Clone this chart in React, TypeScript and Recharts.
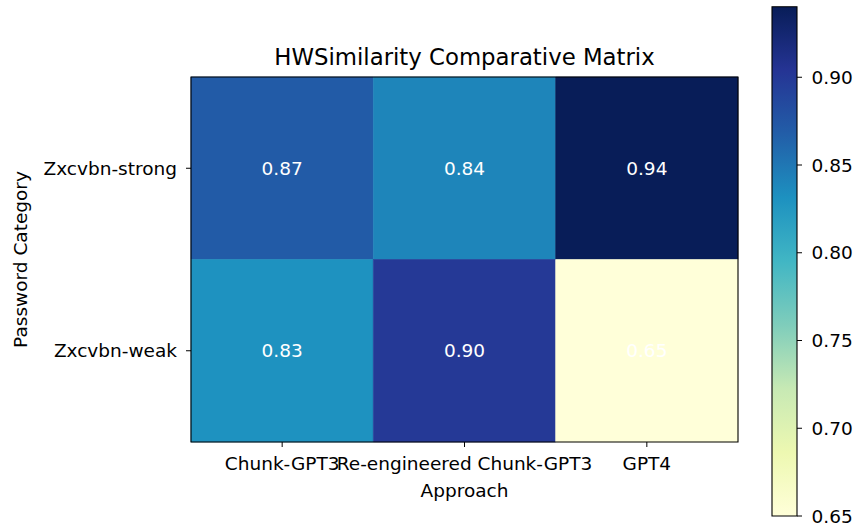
import React from 'react';
import { ComposedChart, XAxis, YAxis, ReferenceArea, Scatter } from 'recharts';

// ---- data ----
const approaches = ['Chunk-GPT3', 'Re-engineered Chunk-GPT3', 'GPT4'];
const categories = ['Zxcvbn-strong', 'Zxcvbn-weak'];
const strongValues = [0.87, 0.84, 0.94];
const weakValues = [0.83, 0.9, 0.65];
const colorbarTicks = [0.65, 0.7, 0.75, 0.8, 0.85, 0.9];
const vmin = 0.65;
const vmax = 0.9402;

// YlGnBu colormap anchors
const ylgnbu = ['#ffffd9', '#edf8b1', '#c7e9b4', '#7fcdbb', '#41b6c4', '#1d91c0', '#225ea8', '#253494', '#081d58'];

const hexToRgb = (h: string) => [1, 3, 5].map((i) => parseInt(h.slice(i, i + 2), 16));
const colorFor = (v: number) => {
  let t = (v - vmin) / (vmax - vmin);
  t = Math.max(0, Math.min(1, t));
  const pos = t * (ylgnbu.length - 1);
  const i = Math.min(Math.floor(pos), ylgnbu.length - 2);
  const f = pos - i;
  const a = hexToRgb(ylgnbu[i]);
  const b = hexToRgb(ylgnbu[i + 1]);
  const c = a.map((x, k) => Math.round(x + (b[k] - x) * f));
  return `rgb(${c[0]},${c[1]},${c[2]})`;
};

const matrix = [strongValues, weakValues];
const cells = matrix.flatMap((row, r) => row.map((value, c) => ({ x: c, y: r, value })));

const FONT = 'DejaVu Sans';
const TICK_FS = 18.5;

export default function App() {
  return (
    <div style={{ position: 'absolute', left: 0, top: 0, width: 856, height: 529, background: '#fff', fontFamily: FONT }}>
      <div
        style={{
          position: 'absolute',
          left: 0,
          width: 929,
          top: 46.3,
          textAlign: 'center',
          fontSize: 22.8,
          lineHeight: '22.8px',
          color: '#000',
          fontFamily: FONT,
          whiteSpace: 'nowrap',
        }}
      >
        HWSimilarity Comparative Matrix
      </div>
      <div style={{ position: 'absolute', left: 0, top: 0 }}>
        <ComposedChart width={856} height={529} margin={{ top: 77, right: 118, bottom: 0, left: 0 }} data={cells}>
          <XAxis
            dataKey="x"
            type="number"
            domain={[-0.5, 2.5]}
            ticks={[0, 1, 2]}
            interval={0}
            allowDataOverflow
            height={87}
            axisLine={false}
            tickLine={{ stroke: '#000', strokeWidth: 1 }}
            tickSize={5}
            tickMargin={10}
            tick={{ fill: '#000', fontSize: TICK_FS, fontFamily: FONT }}
            tickFormatter={(i: number) => approaches[i]}
            label={{
              content: (props: any) => {
                const vb = props.viewBox;
                return (
                  <text x={vb.x + vb.width / 2} y={497} textAnchor="middle" fontSize={TICK_FS} fontFamily={FONT} fill="#000">
                    Approach
                  </text>
                );
              },
            }}
          />
          <YAxis
            dataKey="y"
            type="number"
            domain={[-0.5, 1.5]}
            reversed
            ticks={[0, 1]}
            interval={0}
            allowDataOverflow
            width={191}
            axisLine={false}
            tickLine={{ stroke: '#000', strokeWidth: 1 }}
            tickSize={5}
            tickMargin={9}
            tick={{ fill: '#000', fontSize: TICK_FS, fontFamily: FONT }}
            tickFormatter={(i: number) => categories[i]}
            label={{
              content: (props: any) => {
                const vb = props.viewBox;
                const cy = vb.y + vb.height / 2;
                return (
                  <text
                    x={26.5}
                    y={cy}
                    transform={`rotate(-90, 26.5, ${cy})`}
                    textAnchor="middle"
                    fontSize={TICK_FS}
                    fontFamily={FONT}
                    fill="#000"
                  >
                    Password Category
                  </text>
                );
              },
            }}
          />
          {cells.map((c) => (
            <ReferenceArea
              key={`${c.x}-${c.y}`}
              x1={c.x - 0.5}
              x2={c.x + 0.5}
              y1={c.y - 0.5}
              y2={c.y + 0.5}
              fill={colorFor(c.value)}
              fillOpacity={1}
              stroke={colorFor(c.value)}
              strokeWidth={0.6}
              ifOverflow="extendDomain"
              label={{ value: c.value.toFixed(2), position: 'center', fill: '#fff', fontSize: TICK_FS, fontFamily: FONT }}
            />
          ))}
          <ReferenceArea x1={-0.5} x2={2.5} y1={-0.5} y2={1.5} fill="none" stroke="#000" strokeWidth={1.1} fillOpacity={0} />
          <Scatter dataKey="y" isAnimationActive={false} shape={() => <g />} />
        </ComposedChart>
      </div>
      <div style={{ position: 'absolute', left: 0, top: 0 }}>
        <ComposedChart width={856} height={529} margin={{ top: 6.7, right: 0, bottom: 13, left: 772 }} data={[{ x: 0.5, y: 0.8 }]}>
          <defs>
            <linearGradient id="ylgnbuGrad" x1="0" y1="1" x2="0" y2="0">
              {ylgnbu.map((col, i) => (
                <stop key={col} offset={`${(i / (ylgnbu.length - 1)) * 100}%`} stopColor={col} />
              ))}
            </linearGradient>
          </defs>
          <XAxis dataKey="x" type="number" domain={[0, 1]} hide height={0} />
          <YAxis
            dataKey="y"
            type="number"
            orientation="right"
            domain={[vmin, vmax]}
            ticks={colorbarTicks}
            interval={0}
            allowDataOverflow
            width={59}
            axisLine={false}
            tickLine={{ stroke: '#000', strokeWidth: 1 }}
            tickSize={5}
            tickMargin={9.5}
            tick={{ fill: '#000', fontSize: TICK_FS, fontFamily: FONT }}
            tickFormatter={(v: number) => v.toFixed(2)}
          />
          <ReferenceArea x1={0} x2={1} y1={vmin} y2={vmax} fill="url(#ylgnbuGrad)" fillOpacity={1} stroke="#000" strokeWidth={1.1} />
          <Scatter dataKey="y" isAnimationActive={false} shape={() => <g />} />
        </ComposedChart>
      </div>
    </div>
  );
}
